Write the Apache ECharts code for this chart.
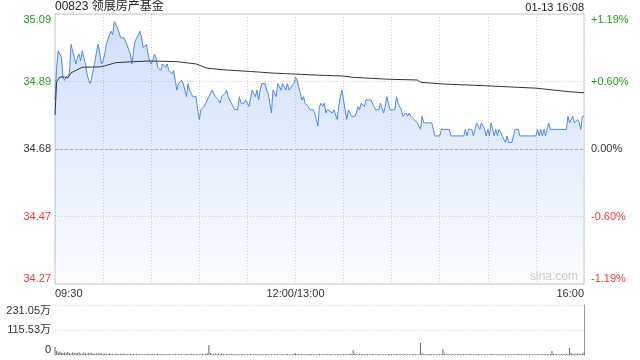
<!DOCTYPE html>
<html><head><meta charset="utf-8">
<script src="https://cdn.jsdelivr.net/npm/echarts@6/dist/echarts.min.js"></script>
<style>html,body{margin:0;padding:0;background:#fff}#c{width:640px;height:360px}</style>
</head><body><div id="c"></div><script>
const stockTitle = '00823 领展房产基金';
const stampText = '01-13 16:08';
const watermark = 'sina.com';
const preClose = 34.68;
const pctRange = 1.19;
const priceTickLabels = ['34.27','34.47','34.68','34.89','35.09'];
const pctTickLabels = ['-1.19%','-0.60%','0.00%','+0.60%','+1.19%'];
const timeTickMinutes = [0,150,330];
const timeTickLabels = ['09:30','12:00/13:00','16:00'];
const volTickLabels = ['0','115.53万','231.05万'];
const volMax = 231.05;

const priceMinutes = [0,1,2,4,5,6,7,8,9,10,11,12,13,14,15,16,17,18,19,20,21,22,23,24,25,26,27,28,29,30,31,32,33,34,35,36,37,38,39,40,41,43,44,45,47,48,49,50,51,52,53,54,55,56,57,58,59,60,61,62,63,64,65,66,67,69,70,71,72,73,74,75,76,77,78,79,80,81,82,83,84,85,86,88,89,90,91,92,93,94,95,96,97,98,99,100,101,102,103,104,105,106,107,108,109,110,111,112,114,115,116,118,119,120,121,123,124,125,126,127,128,129,131,132,133,134,135,136,137,138,139,140,141,142,143,144,145,146,147,149,150,151,152,153,154,155,156,157,158,159,161,162,163,164,165,166,167,168,169,170,171,173,174,175,176,177,178,179,180,181,182,183,184,185,187,188,189,190,191,192,193,194,197,199,200,202,203,204,205,206,207,208,209,212,213,214,215,216,217,218,219,220,221,222,223,224,225,226,227,228,229,230,235,236,237,240,241,246,247,255,256,257,258,260,261,262,263,264,265,266,267,268,269,270,271,272,273,274,275,276,277,278,279,280,281,282,283,285,286,287,289,290,300,301,302,303,304,305,306,307,308,309,319,320,321,322,323,324,325,326,327,328,329,330];
const priceValues = [34.83,34.93,34.98,34.96,34.90,34.89,34.90,34.90,34.91,35.00,35.00,34.96,34.94,34.96,34.97,34.95,34.98,34.96,34.94,34.91,34.89,34.88,34.90,34.90,34.95,34.98,35.00,34.97,34.94,34.95,34.97,35.00,35.00,35.03,35.04,35.03,35.07,35.07,35.05,35.05,35.02,35.02,35.01,35.01,34.97,34.94,34.98,35.01,35.02,35.02,35.04,35.02,34.99,34.99,35.00,34.97,34.95,34.94,34.95,34.97,34.96,34.93,34.93,34.92,34.94,34.93,34.94,34.92,34.92,34.91,34.92,34.89,34.86,34.88,34.88,34.89,34.88,34.86,34.84,34.88,34.86,34.85,34.84,34.84,34.80,34.77,34.80,34.80,34.81,34.82,34.83,34.84,34.85,34.86,34.85,34.84,34.84,34.83,34.82,34.84,34.84,34.85,34.86,34.84,34.83,34.82,34.81,34.80,34.80,34.84,34.82,34.82,34.83,34.82,34.81,34.86,34.85,34.84,34.86,34.83,34.86,34.88,34.88,34.86,34.85,34.82,34.79,34.86,34.85,34.84,34.88,34.87,34.86,34.88,34.88,34.86,34.88,34.86,34.86,34.88,34.90,34.89,34.87,34.85,34.83,34.84,34.82,34.82,34.81,34.80,34.80,34.79,34.77,34.75,34.81,34.82,34.81,34.82,34.79,34.80,34.80,34.79,34.80,34.80,34.77,34.81,34.84,34.86,34.83,34.83,34.77,34.80,34.79,34.78,34.78,34.79,34.81,34.80,34.82,34.82,34.81,34.83,34.83,34.81,34.80,34.80,34.82,34.82,34.79,34.81,34.84,34.82,34.80,34.80,34.84,34.82,34.82,34.80,34.78,34.78,34.79,34.78,34.79,34.78,34.78,34.77,34.77,34.76,34.76,34.74,34.78,34.76,34.76,34.74,34.72,34.72,34.74,34.74,34.72,34.72,34.74,34.72,34.74,34.74,34.72,34.74,34.76,34.76,34.74,34.76,34.76,34.74,34.72,34.74,34.72,34.76,34.74,34.72,34.74,34.72,34.74,34.74,34.72,34.72,34.70,34.72,34.70,34.70,34.72,34.74,34.74,34.72,34.72,34.74,34.72,34.74,34.72,34.74,34.72,34.72,34.76,34.74,34.74,34.78,34.76,34.76,34.78,34.76,34.76,34.77,34.76,34.74,34.78,34.78];

const avgMinutes = [0,1,3,6,8,10,13,17,28,31,38,49,59,76,88,95,105,122,136,150,163,180,186,209,226,228,241,270,300,321,330];
const avgValues = [34.784,34.886,34.900,34.900,34.897,34.913,34.920,34.930,34.931,34.934,34.944,34.947,34.949,34.947,34.940,34.927,34.922,34.917,34.912,34.909,34.906,34.903,34.899,34.893,34.891,34.884,34.879,34.873,34.866,34.855,34.852];

const volumes = [
37,18,12,16,10,9,11,8,14,9, 7,12,10,8,9,13,7,6,11,8, 6,9,7,10,6,5,8,6,9,7,
5,7,6,4,8,5,6,4,7,5, 4,6,5,7,4,5,3,6,4,5, 4,6,3,5,4,3,5,4,6,3,
4,5,3,4,6,3,4,5,3,4, 3,5,4,3,4,6,3,4,5,3, 4,3,5,4,3,6,4,3,5,4,
4,3,5,4,6,8,46,9,5,4, 6,5,7,4,8,5,4,3,5,4, 6,3,4,5,3,4,3,5,4,3,
4,3,5,3,4,3,5,4,3,4, 3,4,5,3,4,3,4,3,5,4, 3,4,3,4,3,5,4,3,4,6,
8,5,4,3,5,4,3,4,3,5, 4,3,4,3,4,5,3,4,3,4, 3,4,5,3,4,3,4,5,3,4,
4,5,3,4,6,5,22,7,5,4, 6,4,5,3,4,5,4,3,5,4, 3,4,5,3,4,3,4,3,5,4,
3,4,3,5,4,3,4,3,5,4, 3,4,3,4,5,3,4,3,55,8, 5,4,3,4,5,4,3,4,3,4,
5,4,26,7,4,5,3,4,5,4, 3,4,6,3,4,5,3,4,3,5, 4,3,4,3,5,4,3,4,3,4,
3,4,5,3,4,3,4,5,3,4, 3,4,3,5,4,3,4,3,4,5, 3,4,3,4,3,5,4,3,4,3,
4,3,5,4,3,4,5,4,3,5, 18,6,4,5,3,4,5,4,3,6, 5,32,9,6,5,7,6,8,5,7, 12
];

const GREEN = '#1f9f1f', RED = '#ee3a3a', DARK = '#333';
const tickColors = [RED, RED, DARK, GREEN, GREEN];
const FONT = '"Liberation Sans", Arial, "Noto Sans CJK SC", sans-serif';
const step = pctRange / 2;
const tickIdx = v => Math.max(0, Math.min(4, Math.round((Number(v) + pctRange) / step)));
const toPct = p => (p / preClose - 1) * 100;

const chart = echarts.init(document.getElementById('c'), null, {renderer: 'canvas'});
const dotted = {color: '#d2d2d2', type: [1, 2], width: 1};

chart.setOption({
  animation: false,
  grid: [
    {left: 55, right: 56, top: 14, height: 270, show: true, borderColor: '#c8c8c8', borderWidth: 1, backgroundColor: 'transparent'},
    {left: 55, right: 56, top: 305, height: 50, show: false}
  ],
  xAxis: [
    {type: 'value', gridIndex: 0, min: 0, max: 330, interval: 30,
     axisLine: {show: false}, axisTick: {show: false},
     splitLine: {show: true, lineStyle: dotted},
     axisLabel: {margin: 4, fontSize: 11, color: DARK, fontFamily: FONT, showMinLabel: true, showMaxLabel: true,
       alignMinLabel: 'left', alignMaxLabel: 'right',
       formatter: v => { const i = timeTickMinutes.indexOf(Math.round(Number(v))); return i >= 0 ? timeTickLabels[i] : ''; }}},
    {type: 'value', gridIndex: 1, min: 0, max: 330, interval: 30,
     axisLine: {show: false}, axisTick: {show: false}, splitLine: {show: false}, axisLabel: {show: false}}
  ],
  yAxis: [
    {type: 'value', gridIndex: 0, position: 'left', min: -pctRange, max: pctRange, interval: step,
     axisLine: {show: false}, axisTick: {show: false},
     splitLine: {show: true, lineStyle: dotted},
     axisLabel: {margin: 4, fontSize: 11, fontFamily: FONT, showMinLabel: true, showMaxLabel: true,
       verticalAlignMinLabel: 'bottom', verticalAlignMaxLabel: 'top',
       formatter: v => priceTickLabels[tickIdx(v)], color: v => tickColors[tickIdx(v)]}},
    {type: 'value', gridIndex: 0, position: 'right', min: -pctRange, max: pctRange, interval: step,
     axisLine: {show: false}, axisTick: {show: false}, splitLine: {show: false},
     axisLabel: {margin: 7, fontSize: 11, fontFamily: FONT, showMinLabel: true, showMaxLabel: true,
       verticalAlignMinLabel: 'bottom', verticalAlignMaxLabel: 'top',
       formatter: v => pctTickLabels[tickIdx(v)], color: v => tickColors[tickIdx(v)]}},
    {type: 'value', gridIndex: 1, position: 'left', min: 0, max: volMax, interval: volMax / 2,
     axisLine: {show: false}, axisTick: {show: false},
     splitLine: {show: true, lineStyle: dotted},
     axisLabel: {margin: 4, fontSize: 11, color: DARK, fontFamily: FONT, showMinLabel: true, showMaxLabel: true,
       verticalAlignMinLabel: 'bottom', verticalAlignMaxLabel: 'top',
       formatter: v => volTickLabels[Math.round(Number(v) / (volMax / 2))]}},
    {type: 'value', gridIndex: 1, position: 'right', min: 0, max: volMax, interval: volMax / 2,
     axisLine: {show: true, lineStyle: {color: '#999', width: 1}}, axisTick: {show: false},
     splitLine: {show: false}, axisLabel: {show: false}}
  ],
  graphic: [
    {type: 'text', left: 55, top: 1, style: {text: stockTitle, fill: '#222', font: '12px ' + FONT}},
    {type: 'text', right: 56, top: 2, style: {text: stampText, fill: '#222', font: '11px ' + FONT}},
    {type: 'text', right: 62, top: 271, style: {text: watermark, fill: '#cfcfcf', font: '12px ' + FONT}}
  ],
  series: [
    {type: 'line', xAxisIndex: 0, yAxisIndex: 0, symbol: 'none', silent: true,
     data: priceMinutes.map((m, i) => [m, toPct(priceValues[i])]),
     lineStyle: {color: '#4a88f0', width: 1},
     areaStyle: {origin: 'start', color: new echarts.graphic.LinearGradient(0, 0, 0, 1, [
       {offset: 0, color: 'rgba(70,130,235,0.36)'}, {offset: 1, color: 'rgba(70,130,235,0.03)'}])}},
    {type: 'line', xAxisIndex: 0, yAxisIndex: 0, symbol: 'none', silent: true,
     data: avgMinutes.map((m, i) => [m, toPct(avgValues[i])]),
     lineStyle: {color: '#333', width: 1},
     markLine: {silent: true, symbol: 'none', label: {show: false},
       lineStyle: {color: '#aaa', type: [3, 2], width: 1}, data: [{yAxis: 0}]}},
    {type: 'bar', xAxisIndex: 1, yAxisIndex: 2, silent: true, barWidth: 1,
     data: volumes.map((v, i) => [i, v]), itemStyle: {color: '#666'}}
  ]
});
</script></body></html>
